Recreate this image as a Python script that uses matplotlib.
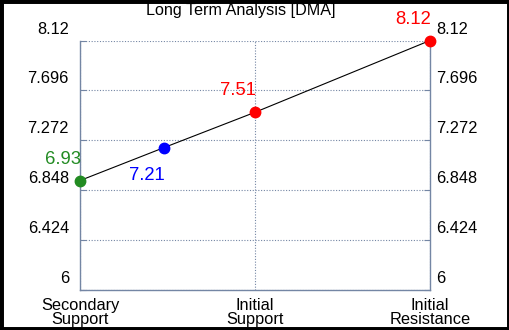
import numpy as np
import matplotlib
matplotlib.use("Agg")
import matplotlib.pyplot as plt
import matplotlib.transforms as mtransforms
from matplotlib.patches import Rectangle

plt.rcParams['font.family'] = ['Liberation Sans', 'DejaVu Sans']

# data
categories = ['Secondary\nSupport', 'Initial\nSupport', 'Initial\nResistance']
point_x = [0, 0.48, 1, 2]
point_y = [6.93, 7.21, 7.51, 8.12]
point_colors = ['#228B22', '#0000FF', '#FF0000', '#FF0000']
y_ticks = [6, 6.424, 6.848, 7.272, 7.696, 8.12]
y_tick_labels = ['6', '6.424', '6.848', '7.272', '7.696', '8.12']

axis_col = '#7486a4'

fig = plt.figure(figsize=(5.1, 3.3), dpi=100)
ax = fig.add_axes([80 / 510, 40 / 330, 350 / 510, 249.5 / 330])

# connecting line + markers
ax.plot(point_x, point_y, color='black', lw=0.8, zorder=3)
for x, y, c in zip(point_x, point_y, point_colors):
    ax.plot(x, y, 'o', color=c, ms=7.5, zorder=4, clip_on=False)

# value labels (offsets in points)
label_offsets = [(-12, 15.5), (-12, -20), (-12, 16), (-12, 15)]
for x, y, c, (dx, dy) in zip(point_x, point_y, point_colors, label_offsets):
    ax.annotate(f'{y:.2f}', (x, y), xytext=(dx, dy), textcoords='offset points',
                color=c, fontsize=13.3, ha='center', va='center', zorder=5)

ax.set_xlim(0, 2)
ax.set_ylim(6, 8.12)
ax.set_xticks([0, 1, 2])
ax.set_xticklabels(categories, fontsize=11.8, linespacing=0.92)
ax.set_yticks(y_ticks)
ax.set_yticklabels(y_tick_labels, fontsize=11.8)
ax.tick_params(axis='y', direction='in', length=4, color=axis_col,
               left=True, right=True, labelleft=True, labelright=True, pad=8)
ax.tick_params(axis='x', length=0, pad=6)

# tick labels sit a bit above their gridlines
shift_l = mtransforms.ScaledTranslation(0, 13 / 100, fig.dpi_scale_trans)
shift_r = mtransforms.ScaledTranslation(-5 / 100, 13 / 100, fig.dpi_scale_trans)
for t in ax.yaxis.get_major_ticks():
    t.label1.set_transform(t.label1.get_transform() + shift_l)
    t.label2.set_transform(t.label2.get_transform() + shift_r)

ax.grid(True, linestyle=(0, (1, 1.5)), color=axis_col, lw=0.8)
for side in ['left', 'right', 'bottom']:
    ax.spines[side].set_color(axis_col)
    ax.spines[side].set_linewidth(1)
ax.spines['top'].set_visible(False)

fig.text(241 / 510, 1 - 10 / 330, 'Long Term Analysis [DMA]', fontsize=11.6,
         ha='center', va='center')

# black frame round the image
fig.patches.append(Rectangle((0, 0), 1, 1, transform=fig.transFigure,
                             fill=False, edgecolor='black', lw=5))

fig.savefig('out.png', dpi=100)
